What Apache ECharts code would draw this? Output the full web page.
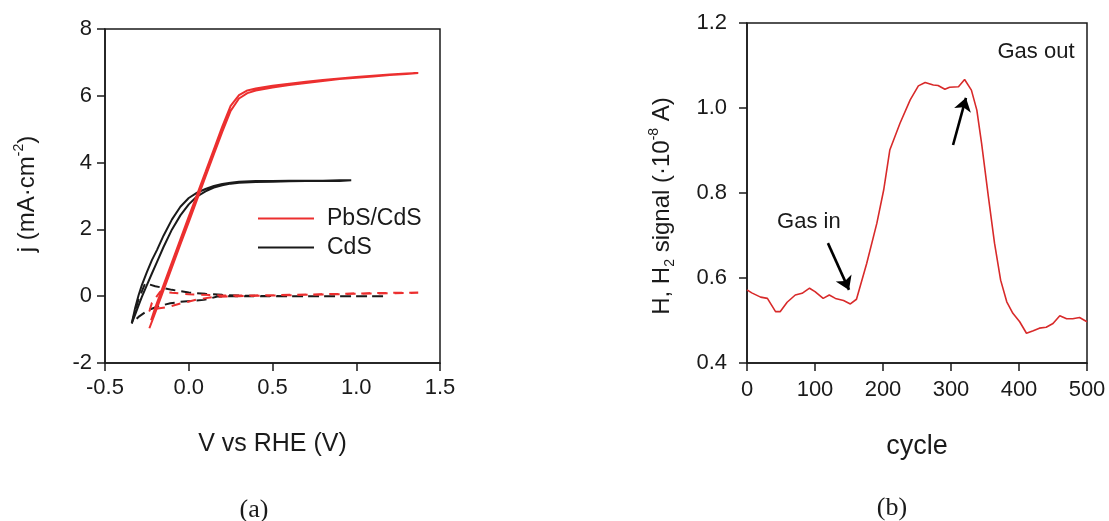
<!DOCTYPE html>
<html>
<head>
<meta charset="utf-8">
<script src="https://cdn.jsdelivr.net/npm/echarts@6/dist/echarts.min.js"></script>
<style>
  html, body { margin: 0; padding: 0; background: #fff; }
  #chart { width: 1109px; height: 521px; }
</style>
</head>
<body>
<div id="chart"></div>
<script>
// ---------- Panel (a): j vs V ----------
const vTicks = [-0.5, 0.0, 0.5, 1.0, 1.5];
const jTicks = [-2, 0, 2, 4, 6, 8];

// PbS/CdS under light (forward then reverse scan)
const pbsLight = [
  [-0.235,-0.96],[-0.20,-0.49],[-0.15,0.19],[-0.10,0.87],[-0.05,1.55],[0.00,2.22],[0.05,2.90],
  [0.10,3.58],[0.15,4.25],[0.20,4.92],[0.25,5.55],[0.30,5.92],[0.35,6.08],[0.40,6.16],[0.50,6.25],
  [0.60,6.32],[0.70,6.38],[0.80,6.44],[0.90,6.50],[1.00,6.54],[1.10,6.58],[1.20,6.62],[1.30,6.65],[1.37,6.68],
  [1.30,6.67],[1.20,6.64],[1.10,6.60],[1.00,6.56],[0.90,6.52],[0.80,6.47],[0.70,6.42],[0.60,6.36],
  [0.50,6.30],[0.40,6.22],[0.35,6.16],[0.30,6.02],[0.25,5.70],[0.20,5.08],[0.15,4.40],[0.10,3.72],
  [0.05,3.05],[0.00,2.38],[-0.05,1.70],[-0.10,1.02],[-0.15,0.34],[-0.20,-0.34],[-0.225,-0.72]
];
// CdS under light
const cdsLight = [
  [-0.34,-0.81],[-0.32,-0.35],[-0.30,0.02],[-0.28,0.33],[-0.25,0.72],[-0.22,1.08],[-0.19,1.38],
  [-0.15,1.82],[-0.10,2.30],[-0.05,2.68],[0.00,2.94],[0.05,3.10],[0.10,3.21],[0.15,3.30],[0.20,3.36],
  [0.25,3.40],[0.30,3.43],[0.40,3.45],[0.50,3.45],[0.60,3.46],[0.70,3.46],[0.80,3.46],[0.90,3.47],[0.97,3.47],
  [0.90,3.45],[0.80,3.45],[0.70,3.45],[0.60,3.44],[0.50,3.43],[0.40,3.42],[0.30,3.40],[0.25,3.37],
  [0.20,3.32],[0.15,3.25],[0.10,3.14],[0.05,2.99],[0.00,2.75],[-0.05,2.42],[-0.10,2.00],[-0.15,1.48],
  [-0.19,1.02],[-0.22,0.68],[-0.25,0.33],[-0.28,-0.02],[-0.30,-0.28],[-0.32,-0.55],[-0.34,-0.81]
];
// CdS dark
const cdsDark = [
  [1.16,0.00],[1.00,0.00],[0.80,0.00],[0.60,0.00],[0.40,0.01],[0.30,0.02],[0.20,0.04],[0.10,0.07],
  [0.00,0.11],[-0.10,0.19],[-0.20,0.30],[-0.26,0.39],[-0.30,-0.10],[-0.34,-0.81],[-0.30,-0.62],
  [-0.24,-0.41],[-0.18,-0.30],[-0.11,-0.21],[-0.05,-0.17],[0.03,-0.14],[0.09,-0.11],[0.12,-0.08],
  [0.17,-0.01],[0.25,0.00],[0.40,0.00],[0.60,0.00],[0.80,0.00],[1.00,0.00],[1.16,0.00]
];
// PbS/CdS dark
const pbsDark = [
  [1.37,0.11],[1.20,0.10],[1.00,0.08],[0.80,0.06],[0.60,0.04],[0.40,0.02],[0.20,0.02],[0.00,0.06],
  [-0.10,0.10],[-0.17,0.14],[-0.22,-0.20],[-0.235,-0.45],[-0.20,-0.38],[-0.13,-0.33],[-0.05,-0.22],
  [0.05,-0.10],[0.15,-0.02],[0.30,0.00],[0.50,0.02],[0.70,0.04],[0.90,0.06],[1.10,0.08],[1.37,0.10]
];

// ---------- Panel (b): signal vs cycle ----------
const cycleTicks = [0, 100, 200, 300, 400, 500];
const signalTicks = [0.4, 0.6, 0.8, 1.0, 1.2];
const cycles = [0,7,20,30,42,49,59,71,81,92,100,112,121,130,142,152,161,176,191,201,210,225,240,252,
  262,274,281,291,298,311,320,330,338,345,355,364,373,382,391,401,411,421,430,440,450,460,470,479,489,500];
const signal = [0.572,0.565,0.555,0.552,0.521,0.521,0.543,0.560,0.564,0.576,0.568,0.552,0.560,0.552,
  0.547,0.539,0.550,0.634,0.729,0.807,0.901,0.964,1.019,1.052,1.060,1.054,1.053,1.044,1.049,1.050,
  1.067,1.042,0.995,0.917,0.791,0.682,0.595,0.544,0.517,0.497,0.470,0.476,0.482,0.484,0.493,0.511,
  0.504,0.504,0.507,0.497];
const gasInArrow = [[119, 0.682], [150, 0.572]];
const gasOutArrow = [[303, 0.913], [322, 1.024]];
const gasInLabel = [91, 0.732];
const gasOutLabel = [425, 1.132];

const FONT = 'Liberation Sans, Arial, Helvetica, sans-serif';
const INK = '#1a1a1a';
const RED_A = '#ec2f2f';
const RED_B = '#d82a2a';

const axisCommon = {
  axisLine: { show: true, onZero: false, lineStyle: { color: INK, width: 1.5 } },
  axisTick: { show: true, inside: false, length: 8, lineStyle: { color: INK, width: 1.5 } },
  splitLine: { show: false },
  axisLabel: { color: INK, fontSize: 22, fontFamily: FONT }
};

const chart = echarts.init(document.getElementById('chart'), null, { renderer: 'canvas' });
chart.setOption({
  animation: false,
  backgroundColor: '#fff',
  grid: [
    { left: 105, top: 29, width: 335, height: 334, show: true, borderColor: INK, borderWidth: 1.5, backgroundColor: 'transparent' },
    { left: 747, top: 23, width: 340, height: 340, show: true, borderColor: INK, borderWidth: 1.5, backgroundColor: 'transparent' }
  ],
  xAxis: [
    Object.assign({}, axisCommon, {
      gridIndex: 0, type: 'value', min: vTicks[0], max: vTicks[vTicks.length - 1], interval: 0.5,
      axisLabel: Object.assign({}, axisCommon.axisLabel, { margin: 14, formatter: v => v.toFixed(1) }),
      name: 'V vs RHE (V)', nameLocation: 'middle', nameGap: 69,
      nameTextStyle: { fontSize: 25, color: INK, fontFamily: FONT }
    }),
    Object.assign({}, axisCommon, {
      gridIndex: 1, type: 'value', min: cycleTicks[0], max: cycleTicks[cycleTicks.length - 1], interval: 100,
      axisLabel: Object.assign({}, axisCommon.axisLabel, { margin: 16 }),
      name: 'cycle', nameLocation: 'middle', nameGap: 70,
      nameTextStyle: { fontSize: 27, color: INK, fontFamily: FONT }
    })
  ],
  yAxis: [
    Object.assign({}, axisCommon, {
      gridIndex: 0, type: 'value', min: jTicks[0], max: jTicks[jTicks.length - 1], interval: 2,
      axisLabel: Object.assign({}, axisCommon.axisLabel, { margin: 13 })
    }),
    Object.assign({}, axisCommon, {
      gridIndex: 1, type: 'value', min: signalTicks[0], max: signalTicks[signalTicks.length - 1], interval: 0.2,
      axisLabel: Object.assign({}, axisCommon.axisLabel, { margin: 20, formatter: v => v.toFixed(1) })
    })
  ],
  legend: {
    data: [{ name: 'PbS/CdS', icon: 'rect' }, { name: 'CdS', icon: 'rect' }],
    orient: 'vertical', left: 258, top: 207, padding: 0,
    itemWidth: 56, itemHeight: 2.2, itemGap: 6,
    textStyle: { fontSize: 23, color: INK, fontFamily: FONT, padding: [0, 0, 0, 8] },
    selectedMode: false
  },
  series: [
    { name: 'CdS dark', type: 'line', xAxisIndex: 0, yAxisIndex: 0, data: cdsDark, symbol: 'none',
      lineStyle: { color: INK, width: 2, type: [10, 6] }, itemStyle: { color: INK } },
    { name: 'PbS/CdS dark', type: 'line', xAxisIndex: 0, yAxisIndex: 0, data: pbsDark, symbol: 'none',
      lineStyle: { color: RED_A, width: 2, type: [9, 7] }, itemStyle: { color: RED_A } },
    { name: 'CdS', type: 'line', xAxisIndex: 0, yAxisIndex: 0, data: cdsLight, symbol: 'none',
      lineStyle: { color: INK, width: 2 }, itemStyle: { color: INK } },
    { name: 'PbS/CdS', type: 'line', xAxisIndex: 0, yAxisIndex: 0, data: pbsLight, symbol: 'none',
      lineStyle: { color: RED_A, width: 2 }, itemStyle: { color: RED_A } },
    { name: 'signal', type: 'line', xAxisIndex: 1, yAxisIndex: 1,
      data: cycles.map((c, i) => [c, signal[i]]), symbol: 'none',
      lineStyle: { color: RED_B, width: 1.6 }, itemStyle: { color: RED_B },
      markLine: {
        silent: true, symbol: ['none', 'arrow'], symbolSize: 13, animation: false,
        lineStyle: { color: '#000', width: 2.6, type: 'solid' }, label: { show: false },
        data: [
          [{ coord: gasInArrow[0] }, { coord: gasInArrow[1] }],
          [{ coord: gasOutArrow[0] }, { coord: gasOutArrow[1] }]
        ]
      },
      markPoint: {
        silent: true, symbol: 'rect', symbolSize: 1, itemStyle: { color: 'rgba(0,0,0,0)' },
        label: { show: true, position: 'inside', color: INK, fontSize: 22, fontFamily: FONT },
        data: [
          { coord: gasInLabel, label: { formatter: 'Gas in' } },
          { coord: gasOutLabel, label: { formatter: 'Gas out' } }
        ]
      }
    }
  ],
  graphic: [
    { type: 'text', x: 27, y: 194, rotation: Math.PI / 2,
      style: { text: '{a|j (mA·cm}{s|-2}{a|)}', align: 'center', verticalAlign: 'middle',
        rich: { a: { fontSize: 24, lineHeight: 30, fontFamily: FONT, fill: INK, color: INK },
                s: { fontSize: 14, lineHeight: 14, verticalAlign: 'top', fontFamily: FONT, fill: INK, color: INK } } } },
    { type: 'text', x: 662, y: 206, rotation: Math.PI / 2,
      style: { text: '{a|H, H}{b|2}{a| signal (·10}{s|-8}{a| A)}', align: 'center', verticalAlign: 'middle',
        rich: { a: { fontSize: 24, lineHeight: 30, fontFamily: FONT, fill: INK, color: INK },
                s: { fontSize: 14, lineHeight: 14, verticalAlign: 'top', fontFamily: FONT, fill: INK, color: INK },
                b: { fontSize: 14, lineHeight: 14, verticalAlign: 'bottom', fontFamily: FONT, fill: INK, color: INK } } } },
    { type: 'text', x: 254, y: 510,
      style: { text: '(a)', align: 'center', verticalAlign: 'middle', fontSize: 26,
        fontFamily: 'Liberation Serif, Times New Roman, serif', fill: INK } },
    { type: 'text', x: 892, y: 508,
      style: { text: '(b)', align: 'center', verticalAlign: 'middle', fontSize: 26,
        fontFamily: 'Liberation Serif, Times New Roman, serif', fill: INK } }
  ]
});
</script>
</body>
</html>
